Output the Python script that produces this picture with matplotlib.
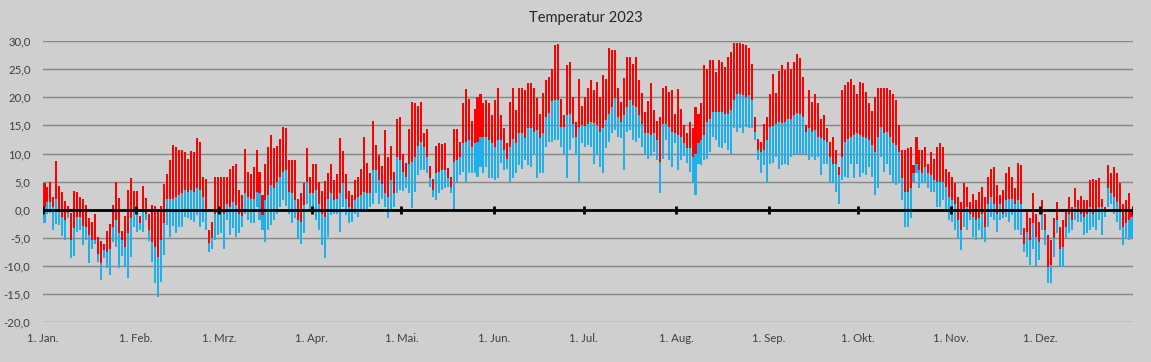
import matplotlib
matplotlib.use("Agg")
import matplotlib.pyplot as plt
import numpy as np

# ---------------- data (°C) ----------------
month_labels = ["1. Jan.", "1. Feb.", "1. Mrz.", "1. Apr.", "1. Mai.", "1. Jun.",
                "1. Jul.", "1. Aug.", "1. Sep.", "1. Okt.", "1. Nov.", "1. Dez."]
days_in_month = [31, 28, 31, 30, 31, 30, 31, 31, 30, 31, 30, 31]

max_jan = [4.8, 4.0, 5.0, 2.3, 8.7, 4.2, 3.1, 1.5, 0.7, -0.6, 3.3, 3.1, 2.3, 1.9, 0.9, -1.5, -2.2, -0.7, -4.8, -5.5,
           -6.0, -3.7, -2.5, 0.9, 4.9, 2.1, -3.8, -1.1, 3.5, 5.6, 3.4]
mean_jan = [0.5, 1.4, 1.4, 0.5, 2.0, 0.2, -1.2, -1.8, -0.5, -5.3, -3.3, -1.2, -1.2, -2.9, -3.0, -4.5, -5.4, -5.3, -7.8, -9.5,
            -7.2, -7.5, -6.9, -3.0, -1.8, -4.2, -5.4, -6.6, -4.2, -1.5, -0.4]
min_jan = [-2.3, -0.7, -0.5, -3.6, -2.6, -2.7, -4.6, -5.3, -1.4, -8.6, -8.2, -4.0, -3.6, -6.2, -5.4, -9.4, -6.9, -6.0, -9.2, -12.4,
           -8.5, -10.4, -11.6, -5.7, -6.6, -10.3, -8.2, -10.1, -12.2, -8.4, -3.1]

max_feb = [3.3, -1.1, 4.2, 2.1, -0.7, 0.8, 0.7, 0.2, 0.7, 4.6, 6.3, 8.9, 11.5, 11.1, 10.6, 10.6, 10.3, 9.0, 10.4, 10.3,
           12.8, 12.1, 5.9, 5.4, -3.6, -2.1, 5.9, 5.9]
mean_feb = [-0.7, -2.4, -0.4, -0.7, -3.6, -5.7, -6.6, -8.4, -5.4, -2.4, 2.0, 2.0, 2.0, 2.3, 2.6, 2.9, 3.5, 3.2, 3.5, 3.2,
            3.8, 3.5, 2.3, -0.4, -5.9, -5.1, -0.7, -0.5]
min_feb = [-3.9, -3.6, -3.9, -1.8, -5.5, -9.2, -13.1, -15.5, -12.8, -8.1, -2.7, -4.9, -2.9, -4.1, -3.1, -3.0, -1.2, -1.5, -1.8, -2.1,
           -0.9, -3.0, -2.1, -3.6, -7.5, -6.9, -5.3, -4.5]

max_mar = [5.9, 5.9, 5.9, 7.2, 7.8, 8.2, 3.5, 2.6, 10.8, 6.8, 6.3, 7.6, 10.6, 6.8, 2.6, 8.2, 11.2, 13.3, 11.0, 11.4,
           12.5, 14.8, 14.5, 8.8, 8.8, 8.9, 2.0, 3.0, 4.7, 11.0, 5.9]
mean_mar = [-0.1, -0.7, 1.1, 0.5, 1.4, 0.8, -0.7, -1.1, 2.9, 2.3, 2.0, 2.0, 3.2, 2.9, -0.9, 1.7, 2.6, 4.4, 3.8, 5.0,
            5.9, 6.8, 7.0, 3.2, 2.9, 1.7, -1.8, -2.1, 0.8, 5.0, 2.9]
min_mar = [-4.2, -6.9, -1.8, -4.5, -3.2, -4.8, -4.2, -3.0, -0.7, -1.8, -2.3, -2.4, 0.5, -1.8, -3.6, -5.7, -3.6, -2.7, -1.8, -0.7,
           0.5, 1.7, 0.7, -0.7, -2.4, -1.5, -5.1, -6.0, -4.2, 1.1, -0.4]

max_apr = [8.2, 8.2, 4.9, 3.4, 5.1, 6.6, 8.1, 5.3, 6.3, 12.8, 10.4, 6.3, 3.4, 2.7, 5.3, 5.9, 7.2, 13.0, 8.4, 6.5,
           15.8, 11.5, 9.7, 7.8, 14.2, 9.4, 11.3, 6.8, 16.1, 16.5]
mean_apr = [2.9, 3.5, 1.1, -0.7, -1.2, 2.0, 2.9, 1.7, 2.0, 2.9, 4.7, 2.0, 0.5, -0.1, 1.7, 2.3, 2.6, 3.2, 2.9, 2.9,
            7.0, 7.0, 5.3, 4.5, 2.9, 2.3, 5.3, 2.9, 9.4, 8.8]
min_apr = [0.5, -1.8, -3.6, -6.3, -8.6, -4.8, -0.9, -0.7, -0.7, -3.9, 0.5, -0.9, -2.4, -2.1, -0.7, -1.2, -0.4, -0.1, -0.4, 0.5,
           1.1, 2.9, 1.1, 2.0, 0.5, -1.5, -0.1, 0.5, 2.9, 3.5]

max_may = [10.0, 8.4, 14.3, 19.2, 18.9, 18.4, 19.2, 13.6, 14.3, 7.8, 5.4, 11.4, 11.8, 11.7, 11.8, 7.4, 5.9, 14.3, 14.3, 12.0,
           18.9, 21.4, 19.7, 15.8, 18.0, 20.1, 20.5, 19.0, 19.6, 18.9, 16.8]
mean_may = [6.8, 5.9, 8.2, 8.5, 9.4, 11.3, 12.1, 11.2, 9.4, 5.6, 3.5, 6.5, 6.8, 7.0, 7.0, 5.6, 4.1, 8.5, 8.8, 9.4,
            11.8, 12.1, 12.4, 11.2, 11.8, 12.1, 13.0, 13.0, 13.0, 12.4, 11.8]
min_may = [3.3, 3.8, 2.9, 0.4, 3.2, 6.2, 7.0, 7.0, 6.5, 4.0, 2.3, 1.8, 3.0, 3.5, 3.8, 4.1, 2.9, -0.4, 5.0, 6.2,
           6.8, 5.0, 6.5, 6.5, 6.5, 5.9, 7.6, 6.5, 7.6, 5.6, 5.6]

max_jun = [19.6, 21.7, 16.8, 14.6, 11.8, 19.2, 21.6, 17.7, 21.7, 21.6, 21.3, 22.5, 22.5, 21.7, 19.9, 17.1, 20.7, 23.0, 23.6, 25.1,
           29.3, 29.4, 19.7, 16.8, 25.7, 26.3, 20.1, 15.6, 23.3, 18.4]
mean_jun = [11.2, 12.4, 12.4, 10.6, 9.1, 11.2, 12.5, 11.8, 13.6, 13.7, 12.7, 14.5, 14.5, 13.9, 14.2, 12.7, 13.6, 16.5, 17.2, 19.3,
            19.6, 19.5, 14.8, 14.8, 16.8, 17.1, 15.3, 13.0, 14.8, 15.1]
min_jun = [5.3, 5.6, 8.3, 7.0, 7.3, 5.0, 5.7, 6.5, 7.9, 7.3, 8.8, 7.9, 7.6, 9.7, 5.6, 6.5, 6.5, 11.2, 12.1, 12.1,
           12.4, 12.4, 11.2, 9.7, 5.6, 10.6, 12.8, 10.0, 5.0, 11.8]

max_jul = [20.1, 21.6, 23.0, 21.3, 22.7, 20.1, 23.9, 23.3, 28.7, 28.4, 28.4, 21.6, 19.2, 23.5, 27.2, 27.1, 26.0, 27.2, 23.0, 20.7,
           17.4, 19.4, 22.5, 17.7, 15.8, 16.5, 21.7, 22.0, 20.9, 21.3, 17.1]
mean_jul = [14.9, 15.3, 15.6, 15.5, 15.1, 13.9, 14.5, 15.9, 17.1, 18.3, 19.8, 16.5, 15.6, 16.8, 18.3, 19.6, 18.6, 18.3, 16.8, 15.3,
            13.6, 13.6, 13.3, 13.6, 12.4, 8.5, 15.3, 15.3, 14.8, 13.9, 13.6]
min_jul = [11.2, 11.6, 11.2, 8.2, 9.7, 7.6, 6.5, 10.9, 12.1, 13.6, 14.2, 13.0, 12.7, 7.0, 13.9, 14.2, 12.4, 12.1, 12.7, 11.2,
           10.0, 9.1, 9.5, 10.3, 8.8, 2.9, 9.1, 12.4, 8.8, 7.6, 11.8]

max_aug = [21.4, 18.0, 15.1, 13.6, 15.6, 14.5, 18.3, 17.1, 18.9, 25.7, 25.1, 26.7, 26.7, 24.5, 26.7, 26.3, 25.4, 27.1, 28.1, 29.6,
           29.6, 29.7, 29.4, 29.3, 28.7, 26.0, 16.5, 12.5, 12.1, 15.2, 16.5]
mean_aug = [13.3, 13.0, 11.8, 10.9, 10.9, 9.4, 10.0, 11.8, 12.4, 13.3, 15.6, 16.2, 17.4, 17.4, 17.4, 17.4, 17.1, 17.1, 17.7, 19.5,
            20.5, 20.6, 20.4, 20.1, 20.4, 19.5, 13.9, 10.6, 10.3, 10.6, 12.4]
min_aug = [7.0, 8.8, 9.5, 8.3, 6.8, 5.0, 2.6, 8.2, 7.9, 8.8, 9.1, 10.3, 13.0, 12.4, 11.2, 10.9, 11.8, 10.6, 10.0, 14.5,
           13.9, 14.6, 13.6, 14.8, 14.5, 14.6, 12.4, 8.8, 6.6, 7.9, 5.0]

max_sep = [20.5, 24.1, 20.7, 24.7, 25.7, 24.8, 26.3, 25.1, 26.3, 27.7, 26.9, 23.6, 15.0, 21.3, 19.2, 20.5, 18.9, 16.2, 16.9, 14.5,
           12.1, 13.0, 10.6, 7.6, 21.3, 22.2, 22.7, 23.2, 22.2, 20.6]
mean_sep = [14.8, 14.9, 15.3, 15.6, 15.5, 15.6, 16.1, 16.2, 16.8, 17.2, 17.0, 16.5, 13.8, 14.5, 13.9, 14.2, 13.0, 12.7, 12.4, 12.1,
            9.4, 8.2, 8.2, 6.2, 9.4, 12.1, 12.5, 13.0, 13.3, 13.6]
min_sep = [8.2, 8.4, 9.4, 7.3, 7.9, 8.2, 7.9, 9.4, 9.7, 10.0, 10.0, 9.7, 10.0, 8.8, 9.4, 8.8, 9.4, 6.2, 8.2, 8.2,
           5.0, 5.0, 3.2, 1.1, 5.3, 5.9, 5.6, 8.2, 5.6, 8.2]

max_oct = [22.7, 22.5, 21.0, 19.0, 17.6, 20.1, 21.6, 21.7, 21.6, 21.7, 21.3, 20.5, 19.5, 15.0, 10.6, 10.7, 10.9, 11.2, 7.9, 12.9,
           10.6, 10.6, 11.2, 8.2, 10.3, 9.1, 11.2, 11.8, 11.2, 7.3, 6.8]
mean_oct = [13.3, 13.0, 12.7, 12.4, 11.5, 10.3, 13.0, 14.8, 13.6, 13.9, 13.0, 11.8, 11.5, 10.3, 5.6, 3.2, 3.2, 3.8, 6.5, 8.2,
            7.0, 6.5, 7.6, 6.5, 6.2, 5.3, 5.0, 5.0, 5.0, 4.1, 2.3]
min_oct = [5.9, 6.5, 6.2, 7.6, 5.9, 2.6, 3.8, 9.4, 6.8, 8.2, 6.2, 5.0, 4.4, 5.0, 1.7, -3.0, -3.0, -1.5, 5.0, 6.5,
           3.8, 4.7, 5.0, 3.8, 3.2, 3.2, 0.5, 0.5, 1.7, 0.2, -1.8]

max_nov = [5.9, 4.7, 2.3, 1.4, 4.7, 4.1, 1.4, 2.8, 1.8, 3.2, 4.0, 2.3, 5.9, 7.3, 7.6, 4.4, 2.6, 3.5, 6.5, 7.6,
           5.9, 3.8, 8.4, 7.9, -3.3, -0.1, -1.5, 2.9, -0.7, -2.1]
mean_nov = [1.7, 1.1, -1.8, -3.6, -0.1, 0.5, -0.7, -1.2, -1.8, -1.5, -0.7, -3.0, 1.1, 2.3, 1.1, -0.7, 1.1, -0.7, 1.7, 2.0,
            2.0, 1.1, 1.7, 1.1, -6.0, -3.9, -5.4, -2.4, -4.8, -5.7]
min_nov = [-2.1, -3.6, -5.1, -7.2, -3.0, -3.6, -1.8, -4.8, -5.4, -3.6, -5.1, -5.7, -3.0, -1.2, -1.8, -3.9, -1.8, -1.5, -1.2, -2.1,
           -0.9, -3.6, -3.6, -4.5, -7.5, -8.4, -9.8, -6.9, -10.1, -8.9]

max_dec = [1.7, -0.7, -4.5, -5.4, -1.5, 1.4, -3.0, -1.8, 0.2, 2.2, 0.5, 3.8, 1.8, 2.4, 1.7, 1.8, 5.3, 5.4, 5.3, 5.6,
           2.0, 0.5, 7.9, 6.5, 7.6, 6.5, 4.7, 1.1, 1.7, 2.9, 0.2]
mean_dec = [-0.7, -3.6, -10.1, -9.8, -5.1, -1.8, -6.9, -6.6, -3.0, -0.7, -1.8, 0.5, -0.4, -0.7, -1.2, -0.7, 0.5, -0.7, -0.1, 0.5,
            0.5, -0.1, 3.8, 2.9, 2.3, 1.4, -0.1, -3.0, -2.4, -1.8, -1.2]
min_dec = [-3.6, -6.3, -13.1, -13.1, -8.4, -4.2, -10.1, -10.1, -5.1, -4.2, -3.6, -1.8, -2.1, -2.1, -4.5, -4.2, -3.6, -3.0, -3.6, -1.8,
           -4.5, -1.2, 0.5, 1.1, -0.7, -2.1, -3.6, -6.3, -5.1, -5.4, -5.1]

y_ticks = [-20, -15, -10, -5, 0, 5, 10, 15, 20, 25, 30]
title = "Temperatur 2023"

# ---------------- assemble ----------------
tmax = np.array(max_jan + max_feb + max_mar + max_apr + max_may + max_jun +
                max_jul + max_aug + max_sep + max_oct + max_nov + max_dec)
tmean = np.array(mean_jan + mean_feb + mean_mar + mean_apr + mean_may + mean_jun +
                 mean_jul + mean_aug + mean_sep + mean_oct + mean_nov + mean_dec)
tmin = np.array(min_jan + min_feb + min_mar + min_apr + min_may + min_jun +
                min_jul + min_aug + min_sep + min_oct + min_nov + min_dec)
n = len(tmax)

BG = "#D0CFCF"
RED = "#FF0000"
BLUE = "#1FB0EC"
TXT = "#404040"
plt.rcParams['font.family'] = ['Lato', 'DejaVu Sans']

W, H = 1151, 362
fig = plt.figure(figsize=(W / 100, H / 100), dpi=100, facecolor=BG)
left, right, top, bottom = 43, 1133, 41.0, 322.3
ax = fig.add_axes([left / W, 1 - bottom / H, (right - left) / W, (bottom - top) / H])
ax.set_facecolor(BG)

x = np.arange(n) + 0.5
ax.bar(x, tmean - tmin, bottom=tmin, width=0.68, color=BLUE, linewidth=0,
       antialiased=False, zorder=2)
ax.bar(x, tmax - tmean, bottom=tmean, width=0.68, color=RED, linewidth=0,
       antialiased=False, zorder=2)

ax.set_xlim(0, n)
ax.set_ylim(y_ticks[0], y_ticks[-1])
ax.set_yticks(y_ticks)
ax.set_yticklabels([f"{v:.1f}".replace(".", ",") for v in y_ticks])
ax.yaxis.grid(True, color="#878787", linewidth=1.0)
ax.set_axisbelow(True)
for s in ax.spines.values():
    s.set_visible(False)

month_starts = np.concatenate([[0], np.cumsum(days_in_month)])
ax.set_xticks(month_starts[:-1])
ax.set_xticklabels(month_labels)
ax.tick_params(axis="both", length=0, labelsize=8.2, labelcolor=TXT)
ax.tick_params(axis="x", pad=8)
ax.tick_params(axis="y", pad=9)

# horizontal axis at zero with month tick marks
ax.axhline(0, color="black", linewidth=2.0, zorder=5)
ax.vlines(month_starts, -0.7, 0.7, color="black", linewidth=2.0, zorder=5)

fig.text(585.5 / W, 1 - 18 / H, title, ha="center", va="center",
         fontsize=10.5, color="#262626")

fig.savefig("out.png", dpi=100, facecolor=BG)
